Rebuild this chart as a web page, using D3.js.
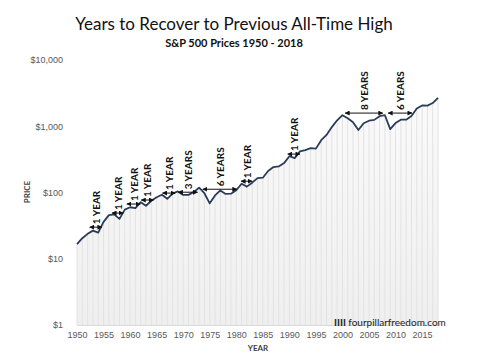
<!DOCTYPE html>
<html>
<head>
<meta charset="utf-8">
<script src="https://cdn.jsdelivr.net/npm/d3@7"></script>
<style>
  body { margin: 0; background: #fff; }
  svg { display: block; font-family: Lato, "Open Sans", sans-serif; }
  .tick text { fill: #595959; font-size: 9px; }
  .arrow-label { font-size: 10px; font-weight: bold; fill: #111; }
</style>
</head>
<body>
<svg id="chart"></svg>
<script>
const width = 495;
const height = 353;

// start-of-year S&P 500 price
const years = d3.range(1950, 2019);
const prices = [16.66, 20.41, 23.77, 26.57, 24.81, 35.98, 45.48, 46.67, 39.99, 55.21,
    59.89, 58.11, 71.55, 63.10, 75.02, 84.75, 92.43, 80.33, 96.47, 103.86,
    92.06, 92.15, 102.09, 118.05, 97.55, 68.56, 90.19, 107.46, 95.10, 96.11,
    107.94, 135.76, 122.55, 140.64, 164.93, 167.24, 211.28, 242.17, 247.08, 277.72,
    353.40, 330.22, 417.09, 435.71, 466.45, 459.27, 615.93, 740.74, 970.43, 1229.23,
    1469.25, 1320.28, 1148.08, 879.82, 1111.92, 1211.92, 1248.29, 1418.30, 1468.36, 903.25,
    1115.10, 1257.64, 1257.60, 1426.19, 1848.36, 2058.90, 2043.94, 2238.83, 2673.61];

const yTicks = [1, 10, 100, 1000, 10000];
const xTicks = [1950, 1955, 1960, 1965, 1970, 1975, 1980, 1985, 1990, 1995, 2000, 2005, 2010, 2015];

// recovery arrows: from, to, price level, label
const arrowFrom = [1952.4, 1956.6, 1959.4, 1962.1, 1966.1, 1969.1, 1973.7, 1980.9, 1989.7, 2000.5, 2008.6];
const arrowTo = [1954.7, 1958.7, 1961.9, 1964.4, 1968.5, 1972.7, 1980.1, 1983.0, 1992.0, 2007.6, 2013.1];
const arrowLevel = [30, 49, 67, 77, 98, 101, 112, 148, 380, 1580, 1580];
const arrowText = ['1 YEAR', '1 YEAR', '1 YEAR', '1 YEAR', '1 YEAR', '3 YEARS', '6 YEARS', '1 YEAR', '1 YEAR', '8 YEARS', '6 YEARS'];

const svg = d3.select('#chart')
    .attr('width', width)
    .attr('height', height);

const x = d3.scaleLinear()
    .domain([1950, 2018])
    .range([77, 438]);
const y = d3.scaleLog()
    .domain([1, 10000])
    .range([325, 60]);

const series = years.map((yr, i) => ({ year: yr, price: prices[i] }));

const defs = svg.append('defs');
defs.append('marker')
    .attr('id', 'head')
    .attr('viewBox', '0 0 10 10')
    .attr('refX', 9)
    .attr('refY', 5)
    .attr('markerWidth', 5)
    .attr('markerHeight', 5)
    .attr('orient', 'auto-start-reverse')
    .append('path')
    .attr('d', 'M0,0L10,5L0,10Z')
    .style('fill', '#111');

const grad = defs.append('linearGradient')
    .attr('id', 'fade')
    .attr('x1', 0).attr('y1', 0).attr('x2', 0).attr('y2', 1);
grad.append('stop').attr('offset', '0%').attr('stop-color', '#fafafa');
grad.append('stop').attr('offset', '100%').attr('stop-color', '#efefef');

// area under the line
svg.append('path')
    .datum(series)
    .attr('d', d3.area()
        .x(d => x(d.year))
        .y0(y(1))
        .y1(d => y(d.price)))
    .style('fill', 'url(#fade)');

// vertical year stripes
svg.append('g')
    .selectAll('line')
    .data(series)
    .enter().append('line')
    .attr('x1', d => x(d.year))
    .attr('x2', d => x(d.year))
    .attr('y1', d => y(d.price))
    .attr('y2', y(1))
    .style('stroke', '#e3e3e3')
    .style('stroke-width', 1);

// axes
const yAxis = svg.append('g')
    .attr('transform', 'translate(66,0)')
    .call(d3.axisLeft(y)
        .tickValues(yTicks)
        .tickSize(0)
        .tickFormat(d => '$' + d3.format(',')(d)));
yAxis.select('.domain').remove();

const xAxis = svg.append('g')
    .attr('transform', `translate(0,${y(1)})`)
    .call(d3.axisBottom(x)
        .tickValues(xTicks)
        .tickSize(0)
        .tickPadding(7)
        .tickFormat(d3.format('d')));
xAxis.select('.domain').style('stroke', '#d9d9d9');

// price line
svg.append('path')
    .datum(series)
    .attr('d', d3.line()
        .x(d => x(d.year))
        .y(d => y(d.price)))
    .style('fill', 'none')
    .style('stroke', '#2b3c5a')
    .style('stroke-width', 1.8)
    .style('stroke-linejoin', 'round');

// recovery arrows
const arrows = svg.append('g')
    .selectAll('g')
    .data(arrowText)
    .enter().append('g');
arrows.append('line')
    .attr('x1', (_, i) => x(arrowFrom[i]))
    .attr('x2', (_, i) => x(arrowTo[i]))
    .attr('y1', (_, i) => y(arrowLevel[i]))
    .attr('y2', (_, i) => y(arrowLevel[i]))
    .style('stroke', '#111')
    .style('stroke-width', 1)
    .attr('marker-start', 'url(#head)')
    .attr('marker-end', 'url(#head)');
arrows.append('text')
    .classed('arrow-label', true)
    .attr('transform', (_, i) => {
        const cx = (x(arrowFrom[i]) + x(arrowTo[i])) / 2 + 4;
        return `translate(${cx},${y(arrowLevel[i]) - 3}) rotate(-90)`;
    })
    .text(d => d);

// titles
svg.append('text')
    .attr('x', 234)
    .attr('y', 30)
    .attr('text-anchor', 'middle')
    .style('font-size', '17px')
    .style('fill', '#111')
    .text('Years to Recover to Previous All-Time High');
svg.append('text')
    .attr('x', 234)
    .attr('y', 47)
    .attr('text-anchor', 'middle')
    .style('font-size', '11px')
    .style('font-weight', 'bold')
    .style('fill', '#111')
    .text('S&P 500 Prices 1950 - 2018');

svg.append('text')
    .attr('transform', 'translate(30,192) rotate(-90)')
    .attr('text-anchor', 'middle')
    .style('font-size', '8px')
    .style('font-weight', 'bold')
    .style('fill', '#404040')
    .text('PRICE');
svg.append('text')
    .attr('x', 258)
    .attr('y', 351)
    .attr('text-anchor', 'middle')
    .style('font-size', '8px')
    .style('font-weight', 'bold')
    .style('fill', '#404040')
    .text('YEAR');

// watermark
const mark = svg.append('text')
    .attr('x', 334)
    .attr('y', 326)
    .style('font-size', '10px')
    .style('fill', '#222');
mark.append('tspan').style('font-weight', 'bold').text('IIII ');
mark.append('tspan').text('fourpillarfreedom.com');
</script>
</body>
</html>
